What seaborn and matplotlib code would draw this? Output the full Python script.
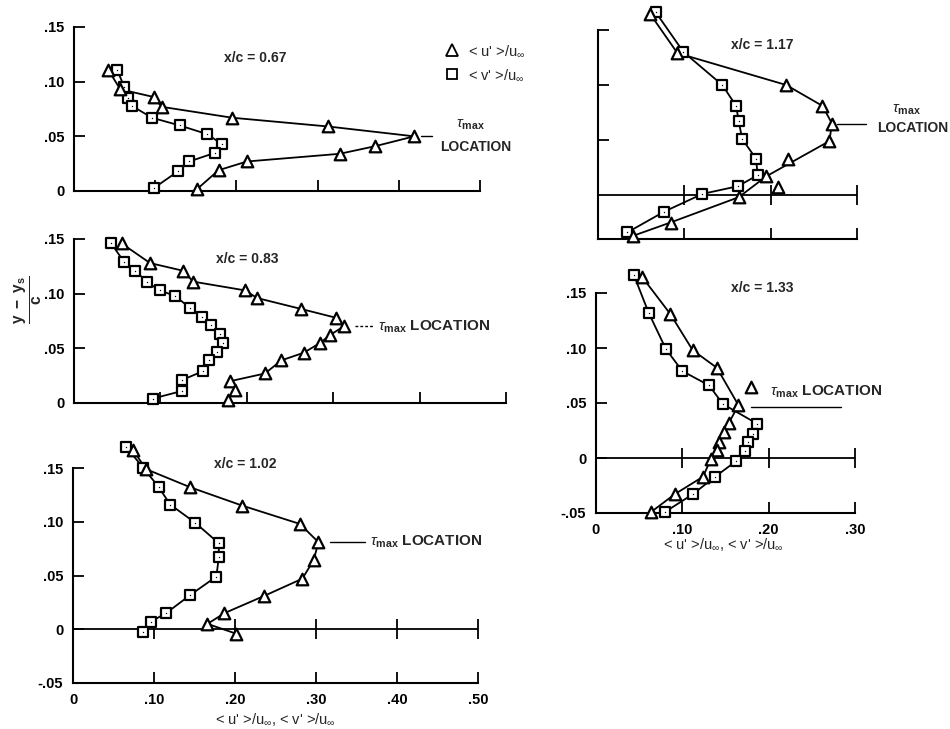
import pandas as pd
import seaborn as sns
import matplotlib.pyplot as plt
from matplotlib.lines import Line2D

# x/c = 0.67
u67_x = [0.042, 0.057, 0.098, 0.108, 0.195, 0.313, 0.419, 0.371, 0.327, 0.213, 0.178, 0.152]
u67_y = [0.111, 0.093, 0.086, 0.077, 0.067, 0.059, 0.050, 0.041, 0.034, 0.027, 0.019, 0.002]
v67_x = [0.053, 0.062, 0.067, 0.071, 0.096, 0.130, 0.164, 0.182, 0.174, 0.142, 0.128, 0.099]
v67_y = [0.111, 0.095, 0.085, 0.078, 0.067, 0.060, 0.052, 0.043, 0.035, 0.027, 0.018, 0.003]

# x/c = 0.83
u83_x = [0.055, 0.088, 0.126, 0.138, 0.198, 0.212, 0.263, 0.303, 0.312, 0.296, 0.285, 0.266, 0.240, 0.221, 0.181, 0.186, 0.178]
u83_y = [0.146, 0.128, 0.121, 0.111, 0.103, 0.096, 0.086, 0.078, 0.070, 0.062, 0.055, 0.046, 0.039, 0.027, 0.020, 0.012, 0.003]
v83_x = [0.043, 0.058, 0.071, 0.084, 0.099, 0.117, 0.134, 0.148, 0.159, 0.169, 0.173, 0.165, 0.156, 0.149, 0.125, 0.125, 0.091]
v83_y = [0.146, 0.129, 0.121, 0.111, 0.103, 0.098, 0.087, 0.079, 0.071, 0.063, 0.055, 0.047, 0.039, 0.029, 0.021, 0.011, 0.004]

# x/c = 1.02
u102_x = [0.074, 0.090, 0.145, 0.209, 0.280, 0.303, 0.297, 0.283, 0.236, 0.187, 0.166, 0.201]
u102_y = [0.167, 0.149, 0.132, 0.115, 0.098, 0.081, 0.064, 0.047, 0.031, 0.015, 0.005, -0.004]
v102_x = [0.065, 0.087, 0.106, 0.120, 0.151, 0.180, 0.180, 0.177, 0.145, 0.115, 0.096, 0.087]
v102_y = [0.170, 0.150, 0.132, 0.116, 0.099, 0.080, 0.067, 0.049, 0.032, 0.015, 0.007, -0.003]

# x/c = 1.17
u117_x = [0.060, 0.092, 0.218, 0.260, 0.271, 0.268, 0.220, 0.195, 0.208, 0.163, 0.084, 0.041]
u117_y = [0.165, 0.129, 0.100, 0.081, 0.065, 0.049, 0.033, 0.017, 0.007, -0.002, -0.025, -0.037]
u117_off = [6, 8]
v117_x = [0.067, 0.099, 0.144, 0.160, 0.163, 0.167, 0.183, 0.185, 0.162, 0.121, 0.077, 0.034]
v117_y = [0.166, 0.130, 0.100, 0.081, 0.067, 0.051, 0.033, 0.018, 0.008, 0.001, -0.015, -0.034]

# x/c = 1.33
u133_x = [0.053, 0.086, 0.112, 0.140, 0.180, 0.165, 0.154, 0.148, 0.143, 0.140, 0.133, 0.124, 0.091, 0.064]
u133_y = [0.165, 0.131, 0.098, 0.082, 0.065, 0.048, 0.032, 0.024, 0.015, 0.007, -0.001, -0.017, -0.033, -0.049]
u133_off = [4]
v133_x = [0.044, 0.061, 0.081, 0.100, 0.131, 0.147, 0.187, 0.182, 0.176, 0.173, 0.162, 0.138, 0.112, 0.080]
v133_y = [0.166, 0.132, 0.099, 0.079, 0.066, 0.049, 0.031, 0.022, 0.015, 0.006, -0.003, -0.017, -0.033, -0.049]

stations = ['x/c = 0.67', 'x/c = 0.83', 'x/c = 1.02', 'x/c = 1.17', 'x/c = 1.33']
tau_y = [0.050, 0.070, 0.081, 0.065, 0.046]
legend_labels = ["< u' >/u$_{\\infty}$", "< v' >/u$_{\\infty}$"]
axis_title = "< u' >/u$_{\\infty}$, < v' >/u$_{\\infty}$"

sns.set_theme(style='ticks')
plt.rcParams['font.family'] = ['Liberation Sans', 'DejaVu Sans']
plt.rcParams['mathtext.fontset'] = 'custom'
plt.rcParams['mathtext.rm'] = 'Liberation Sans'
plt.rcParams['mathtext.it'] = 'Liberation Sans:italic'
plt.rcParams['mathtext.bf'] = 'Liberation Sans:bold'

fig = plt.figure(figsize=(9.5, 7.29), dpi=100)
LW = 1.3


def fmt(v):
    if v == 0:
        return '0'
    s = f'{v:.2f}'
    return s.replace('0.', '.')


def panel(rect, xlim, ylim, xticks, yticks, show_x=False, show_y=True, zero=False):
    ax = fig.add_axes(rect)
    ax.set_xlim(xlim)
    ax.set_ylim(ylim)
    sns.despine(ax=ax)
    for s in ['left', 'bottom']:
        ax.spines[s].set_linewidth(1.5)
        ax.spines[s].set_color('black')
    ax.set_xticks(xticks)
    ax.set_yticks(yticks)
    ax.set_xticklabels([fmt(t) for t in xticks] if show_x else [])
    ax.set_yticklabels([fmt(t) for t in yticks] if show_y else [])
    ax.tick_params(direction='in', length=8, width=1.3, colors='black', pad=7)
    for lab in ax.get_xticklabels() + ax.get_yticklabels():
        lab.set_fontweight('bold')
        lab.set_fontsize(10.5)
    if zero:
        ax.axhline(0, color='black', lw=LW)
        marks = [t for t in xticks if t > 0]
        ax.plot(marks, [0] * len(marks), ls='none', marker='|', ms=14, mew=LW, color='black')
    return ax


def profile(ax, xs, ys, marker, size, skip=()):
    df = pd.DataFrame({'x': xs, 'y': ys})
    line = df.drop(index=list(skip))
    sns.lineplot(data=line, x='x', y='y', sort=False, estimator=None, color='black',
                 lw=LW, ax=ax, clip_on=False)
    sns.scatterplot(data=df, x='x', y='y', marker=marker, s=size, facecolor='white',
                    edgecolor='black', linewidth=1.6, ax=ax, zorder=3, clip_on=False)
    if marker == 's':
        sns.scatterplot(data=df, x='x', y='y', marker='.', s=4, color='black',
                        linewidth=0, ax=ax, zorder=4, clip_on=False)
    ax.set_xlabel('')
    ax.set_ylabel('')


def draw(ax, ux, uy, vx, vy, uoff=()):
    profile(ax, vx, vy, 's', 52)
    profile(ax, ux, uy, '^', 70, uoff)


xt5 = [0, 0.1, 0.2, 0.3, 0.4, 0.5]
xt3 = [0, 0.1, 0.2, 0.3]

ax1 = panel([74 / 950, 1 - 191 / 729, 406 / 950, 164 / 729], (0, 0.5), (0, 0.15),
            xt5, [0, 0.05, 0.10, 0.15])
draw(ax1, u67_x, u67_y, v67_x, v67_y)

ax2 = panel([74 / 950, 1 - 403 / 729, 432 / 950, 164 / 729], (0, 0.5), (0, 0.15),
            xt5, [0, 0.05, 0.10, 0.15])
draw(ax2, u83_x, u83_y, v83_x, v83_y)

ax3 = panel([73 / 950, 1 - 683 / 729, 405 / 950, 215 / 729], (0, 0.5), (-0.05, 0.15),
            xt5, [-0.05, 0, 0.05, 0.10, 0.15], show_x=True, zero=True)
draw(ax3, u102_x, u102_y, v102_x, v102_y)

ax4 = panel([598 / 950, 1 - 239 / 729, 259 / 950, 209 / 729], (0, 0.3), (-0.04, 0.15),
            xt3, [0.05, 0.10, 0.15], show_y=False, zero=True)
draw(ax4, u117_x, u117_y, v117_x, v117_y, u117_off)

ax5 = panel([596 / 950, 1 - 513 / 729, 259 / 950, 220 / 729], (0, 0.3), (-0.05, 0.15),
            xt3, [-0.05, 0, 0.05, 0.10, 0.15], show_x=True, zero=True)
draw(ax5, u133_x, u133_y, v133_x, v133_y, u133_off)

axes = [ax1, ax2, ax3, ax4, ax5]

# station labels
title_pos = [(0.223, 0.122), (0.20, 0.132), (0.212, 0.154), (0.19, 0.136), (0.193, 0.155)]
for ax, name, (tx, ty) in zip(axes, stations, title_pos):
    ax.text(tx, ty, name, ha='center', va='center', fontsize=10, fontweight='bold')

# tau_max location markers
tau = r'$\tau_{\mathbf{max}}$'
kw = dict(color='black', lw=1.0, clip_on=False)
ax1.plot([0.427, 0.441], [tau_y[0]] * 2, **kw)
ax1.text(0.488, 0.061, tau, ha='center', va='center', fontsize=11)
ax1.text(0.495, 0.040, 'LOCATION', ha='center', va='center', fontsize=10, fontweight='bold')

ax2.plot([0.325, 0.346], [tau_y[1]] * 2, ls=(0, (2, 1.5)), **kw)
ax2.text(0.352, tau_y[1], tau + ' LOCATION', ha='left', va='center', fontsize=11, fontweight='bold')

ax3.plot([0.317, 0.360], [tau_y[2]] * 2, **kw)
ax3.text(0.367, tau_y[2], tau + ' LOCATION', ha='left', va='center', fontsize=11, fontweight='bold')

ax4.plot([0.277, 0.311], [tau_y[3]] * 2, **kw)
ax4.text(0.357, 0.077, tau, ha='center', va='center', fontsize=11)
ax4.text(0.365, 0.061, 'LOCATION', ha='center', va='center', fontsize=10, fontweight='bold')

ax5.plot([0.180, 0.284], [tau_y[4]] * 2, **kw)
ax5.text(0.201, 0.060, tau + ' LOCATION', ha='left', va='center', fontsize=11, fontweight='bold')

# legend
handles = [Line2D([], [], ls='none', marker='^', ms=8, mfc='white', mec='black', mew=1.3),
           Line2D([], [], ls='none', marker='s', ms=7, mfc='white', mec='black', mew=1.3)]
fig.legend(handles, legend_labels, loc='upper left', bbox_to_anchor=(432 / 950, 1 - 30 / 729),
           frameon=False, fontsize=10.5, handlelength=1.0, handletextpad=0.6, labelspacing=0.6)

# axis titles
fig.text(0.03, 1 - 300 / 729, r'$\frac{\mathbf{y\ -\ y_s}}{\mathbf{c}}$', rotation=90,
         ha='center', va='center', fontsize=16)
fig.text(275 / 950, 1 - 720 / 729, axis_title, ha='center', va='center', fontsize=10.5)
fig.text(723 / 950, 1 - 545 / 729, axis_title, ha='center', va='center', fontsize=10.5)

fig.savefig('out.png', dpi=100)
